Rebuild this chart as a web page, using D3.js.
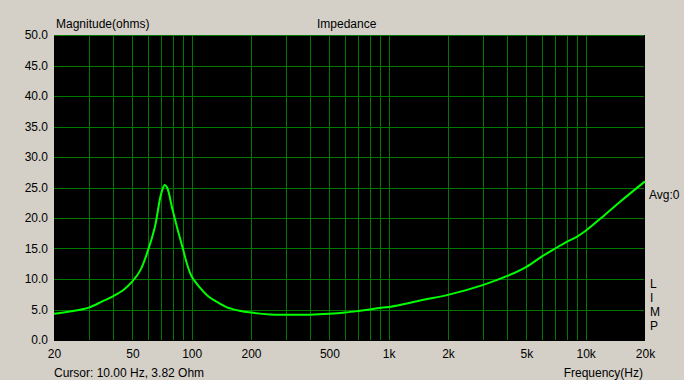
<!DOCTYPE html>
<html>
<head>
<meta charset="utf-8">
<script src="https://cdn.jsdelivr.net/npm/d3@7"></script>
<style>
  body { margin: 0; background: #d4d0c8; }
  text { font-family: "Liberation Sans", Arial, sans-serif; font-size: 12px; fill: #000; }
</style>
</head>
<body>
<div id="chart"></div>
<script>
// impedance curve
var freqs = [20, 25, 30, 35, 40, 45, 50, 55, 60, 65, 70, 73, 75, 80, 85, 90, 95, 100,
	110, 120, 135, 150, 175, 200, 250, 300, 400, 500, 600, 700, 800, 900, 1000,
	1200, 1500, 2000, 3000, 4000, 5000, 6000, 7000, 8000, 9000, 10000, 12500, 15000, 20000];
var imps = [4.3, 4.75, 5.3, 6.3, 7.2, 8.2, 9.6, 11.5, 14.7, 18.5, 24.0, 25.4, 25.0, 21.3, 18.0, 15.1, 12.3, 10.4,
	8.6, 7.3, 6.2, 5.4, 4.8, 4.5, 4.2, 4.15, 4.15, 4.3, 4.5, 4.75, 5.0, 5.25, 5.4,
	5.9, 6.6, 7.4, 9.0, 10.5, 12.0, 13.7, 15.0, 16.1, 16.9, 17.9, 20.5, 22.7, 26.0];

var yTicks = [0, 5, 10, 15, 20, 25, 30, 35, 40, 45, 50];
var xLabels = [20, 50, 100, 200, 500, 1000, 2000, 5000, 10000, 20000];
var xGrid = [30, 40, 50, 60, 70, 80, 90, 100, 200, 300, 400, 500, 600, 700, 800, 900,
	1000, 2000, 3000, 4000, 5000, 6000, 7000, 8000, 9000, 10000];
var sideLetters = ["L", "I", "M", "P"];

var W = 684, H = 380;
var pLeft = 54, pRight = 645, pTop = 35, pBottom = 340;

var svg = d3.select("#chart").append("svg")
	.attr("width", W)
	.attr("height", H);

var x = d3.scaleLog().domain([20, 20000]).range([pLeft, pRight]);
var y = d3.scaleLinear().domain([0, 50]).range([pBottom, pTop]);

svg.append("rect")
	.attr("x", pLeft).attr("y", pTop)
	.attr("width", pRight - pLeft).attr("height", pBottom - pTop + 1)
	.attr("fill", "#000");

// grid
svg.selectAll("line.vg")
	.data(xGrid)
	.join("line")
	.attr("class", "vg")
	.attr("x1", d => Math.round(x(d)) + 0.5).attr("x2", d => Math.round(x(d)) + 0.5)
	.attr("y1", pTop).attr("y2", pBottom)
	.attr("stroke", "#007800").attr("stroke-width", 1);

svg.selectAll("line.hg")
	.data(yTicks.filter(d => d > 0))
	.join("line")
	.attr("class", "hg")
	.attr("x1", pLeft).attr("x2", pRight - 1)
	.attr("y1", d => Math.round(y(d)) + 0.5).attr("y2", d => Math.round(y(d)) + 0.5)
	.attr("stroke", "#007800").attr("stroke-width", 1);

// axes (labels only)
var fmtX = d => d >= 1000 ? (d / 1000) + "k" : String(d);
var yAxis = d3.axisLeft(y).tickValues(yTicks).tickSize(0).tickPadding(6)
	.tickFormat(d3.format(".1f"));
var gy = svg.append("g").attr("transform", "translate(" + pLeft + ",0)").call(yAxis);
gy.select(".domain").remove();
gy.selectAll("text").style("font-size", "12px").attr("fill", "#000")
	.style("font-family", "'Liberation Sans', Arial, sans-serif");

var xAxis = d3.axisBottom(x).tickValues(xLabels).tickSize(0).tickPadding(9).tickFormat(fmtX);
var gx = svg.append("g").attr("transform", "translate(0," + pBottom + ")").call(xAxis);
gx.select(".domain").remove();
gx.selectAll("text").style("font-size", "12px").attr("fill", "#000")
	.style("font-family", "'Liberation Sans', Arial, sans-serif");

// curve
var pts = freqs.map((f, i) => [f, imps[i]]);
var line = d3.line()
	.x(d => x(d[0]))
	.y(d => y(d[1]))
	.curve(d3.curveCatmullRom.alpha(0.5));

svg.append("path")
	.datum(pts)
	.attr("d", line)
	.attr("fill", "none")
	.attr("stroke", "#00ff00")
	.attr("stroke-width", 2);

// titles
svg.append("text").attr("x", 56).attr("y", 28).text("Magnitude(ohms)");
svg.append("text").attr("x", 317).attr("y", 28).text("Impedance");
svg.append("text").attr("x", 54).attr("y", 377).text("Cursor: 10.00 Hz, 3.82 Ohm");
svg.append("text").attr("x", 643).attr("y", 377).attr("text-anchor", "end").text("Frequency(Hz)");
svg.append("text").attr("x", 649).attr("y", 199).text("Avg:0");

svg.selectAll("text.side")
	.data(sideLetters)
	.join("text")
	.attr("class", "side")
	.attr("x", 650)
	.attr("y", (d, i) => 288 + i * 14)
	.text(d => d);
</script>
</body>
</html>
